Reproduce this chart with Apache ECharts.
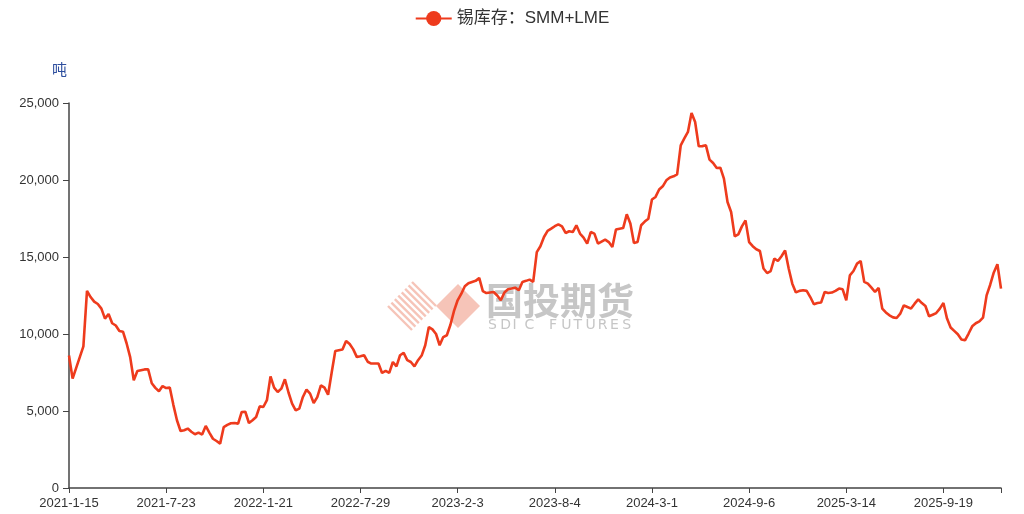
<!DOCTYPE html>
<html>
<head>
<meta charset="utf-8">
<script src="https://cdn.jsdelivr.net/npm/echarts@6/dist/echarts.min.js"></script>
<style>html,body{margin:0;padding:0;background:#fff}#c{width:1024px;height:514px}</style>
</head>
<body>
<div id="c"></div>
<script>
const seriesName = '锡库存：SMM+LME';
const unitName = '吨';
const tickLabels = ['2021-1-15','2021-7-23','2022-1-21','2022-7-29','2023-2-3','2023-8-4','2024-3-1','2024-9-6','2025-3-14','2025-9-19'];
const pointsPerTick = 27;
const pointsAfterLastTick = 17;
const yTicks = [0, 5000, 10000, 15000, 20000, 25000];
const inventory = [
  8600,7100,7800,8500,9200,12800,12400,12100,11950,11650,
  11000,11300,10700,10550,10200,10150,9400,8500,7000,7600,
  7650,7700,7700,6800,6500,6280,6620,6490,6520,5400,
  4400,3700,3750,3860,3650,3490,3600,3470,4030,3600,
  3200,3050,2880,3960,4100,4200,4220,4180,4940,4950,
  4220,4400,4610,5300,5260,5700,7250,6520,6230,6450,
  7060,6200,5480,5045,5155,5910,6390,6130,5520,5900,
  6670,6520,6060,7500,8900,8950,8990,9550,9350,9000,
  8500,8550,8620,8200,8080,8080,8080,7470,7600,7470,
  8180,7900,8620,8770,8300,8180,7900,8300,8600,9270,
  10450,10300,10000,9270,9800,9920,10600,11500,12190,12600,
  13100,13300,13380,13450,13640,12790,12660,12700,12730,12500,
  12190,12700,12900,12950,13010,12840,13380,13450,13530,13380,
  15320,15700,16300,16700,16840,17000,17120,16990,16560,16670,
  16620,17060,16520,16260,15870,16620,16520,15870,16000,16130,
  15970,15650,16780,16840,16880,17770,17170,15910,15970,17060,
  17300,17490,18730,18900,19380,19590,19980,20160,20240,20370,
  22250,22700,23120,24350,23770,22190,22200,22250,21320,21100,
  20780,20800,20090,18570,17920,16340,16470,16990,17380,15970,
  15700,15500,15390,14250,13960,14090,14900,14740,15050,15430,
  14250,13270,12700,12800,12840,12800,12400,11930,12010,12040,
  12730,12660,12690,12800,12950,12900,12190,13810,14090,14570,
  14740,13380,13270,13010,12730,12990,11650,11400,11210,11080,
  11040,11320,11860,11750,11650,11970,12250,12010,11820,11150,
  11250,11360,11650,12010,11000,10420,10200,9980,9640,9590,
  10030,10500,10700,10820,11060,12510,13200,14000,14530,12950
];

const DAY = 86400000;
function parseD(s){const p=s.split('-').map(Number);return Date.UTC(p[0],p[1]-1,p[2]);}
function fmtD(t){const d=new Date(t);return d.getUTCFullYear()+'-'+(d.getUTCMonth()+1)+'-'+d.getUTCDate();}
const categories = [];
for (let k=0;k<tickLabels.length-1;k++){
  const a=parseD(tickLabels[k]), b=parseD(tickLabels[k+1]);
  for (let j=0;j<pointsPerTick;j++){
    categories.push(j===0?tickLabels[k]:fmtD(a+Math.round((b-a)*j/pointsPerTick/DAY)*DAY));
  }
}
{
  const a=parseD(tickLabels[tickLabels.length-1]);
  for (let j=0;j<pointsAfterLastTick;j++) categories.push(j===0?tickLabels[tickLabels.length-1]:fmtD(a+j*7*DAY));
}
const lastIdx = categories.length-1;

const chart = echarts.init(document.getElementById('c'), null, {renderer:'canvas'});
const red = '#ee3b1d';
const logoColor = '#f6c4b8';
const wmColor = '#c6c6c6';
const graphics = [];
{
  const cx=412, cy=306, r=24, n=8;
  for (let i=0;i<n;i++){
    const f=i/(n-1);
    const px=(cx-r)+f*r, py=cy-f*r;
    const qx=cx+f*r, qy=(cy+r)-f*r;
    graphics.push({type:'line', z:0, shape:{x1:px,y1:py,x2:qx,y2:qy}, style:{stroke:logoColor, lineWidth:2.4}});
  }
}
graphics.push({type:'polygon', z:0, shape:{points:[[436,306],[458,284],[480,306],[458,328]]}, style:{fill:logoColor}});
graphics.push({type:'text', z:0, left:486, top:282, style:{text:'国投期货', fontSize:37, fontWeight:'bold', fill:wmColor, fontFamily:'Noto Sans CJK SC'}});
{
  const s='SDIC FUTURES';
  for (let i=0;i<s.length;i++){
    if (s[i]===' ') continue;
    graphics.push({type:'text', z:0, x:488+i*12.2, y:318, style:{text:s[i], fontSize:14, fill:wmColor, fontFamily:'DejaVu Sans', textAlign:'left'}});
  }
}

chart.setOption({
  animation:false,
  legend:{
    top:5, left:'center',
    itemWidth:36, itemHeight:19, itemGap:8,
    textStyle:{fontSize:17, color:'#333', fontFamily:'Liberation Sans, Noto Sans CJK SC, sans-serif'},
    data:[seriesName]
  },
  grid:{left:69, right:23, top:103, bottom:26, containLabel:false},
  xAxis:{
    type:'category', boundaryGap:false, data:categories,
    axisLine:{lineStyle:{color:'#444', width:1.5}},
    axisTick:{length:5, lineStyle:{color:'#444'}, interval:function(i){return i%pointsPerTick===0||i===lastIdx;}},
    axisLabel:{interval:pointsPerTick-1, color:'#333', fontSize:13, margin:9, fontFamily:'Liberation Sans, sans-serif'},
    splitLine:{show:false}
  },
  yAxis:{
    type:'value', min:yTicks[0], max:yTicks[yTicks.length-1], interval:yTicks[1]-yTicks[0],
    name:unitName, nameLocation:'end', nameGap:26,
    nameTextStyle:{color:'#2d4e9e', fontSize:15, align:'right', padding:[0,2,0,0], fontFamily:'Noto Sans CJK SC'},
    axisLine:{show:true, lineStyle:{color:'#444', width:1.5}},
    axisTick:{show:true, length:6, lineStyle:{color:'#444'}},
    axisLabel:{color:'#333', fontSize:13, margin:10, fontFamily:'Liberation Sans, sans-serif',
      formatter:function(v){return v.toLocaleString('en-US');}},
    splitLine:{show:false}
  },
  graphic:graphics,
  series:[{
    name:seriesName, type:'line', data:inventory,
    symbol:'circle', symbolSize:16, showSymbol:false,
    itemStyle:{color:red},
    lineStyle:{color:red, width:2.6},
    z:3
  }]
});
</script>
</body>
</html>
